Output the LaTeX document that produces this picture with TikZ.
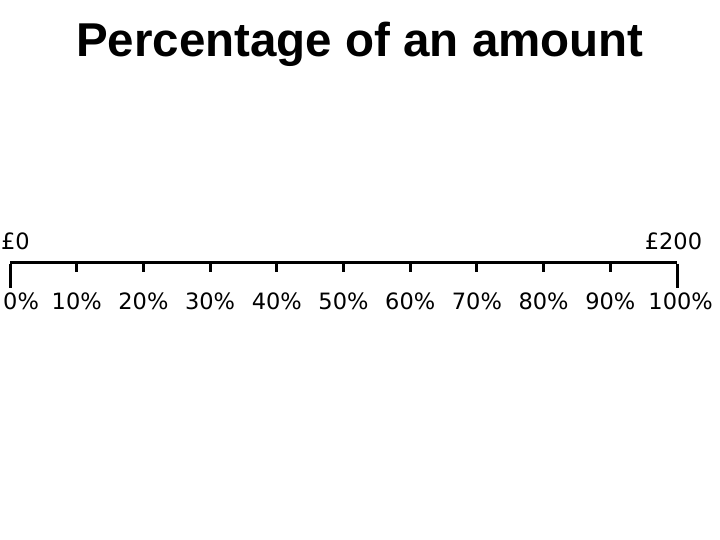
\documentclass[tikz,border=0pt]{standalone}
\usepackage{fontspec}
\setmainfont{DejaVu Sans}
\newfontfamily\titlefont{Liberation Sans}
\usepackage{tikz}
\usetikzlibrary{positioning,calc}

\begin{document}
\begin{tikzpicture}[x=1pt, y=-1pt,
		pct/.style={anchor=base, inner sep=0pt, font=\fontsize{22.5}{26}\selectfont},
		money/.style={anchor=base, inner sep=0pt, font=\fontsize{22.5}{26}\selectfont},
		numline/.style={line width=3pt}]
		\useasboundingbox[fill=white] (0,0) rectangle (720,540);
		% title
		\node[anchor=base, inner sep=0pt, font=\titlefont\bfseries\fontsize{47.5}{54}\selectfont]
			(title) at (360,57) {Percentage of an amount};
		% number line from 0% to 100%
		\coordinate (start) at (10,262);
		\coordinate (end) at (677,262);
		\draw[numline] (start) -- (end);
		% ticks and percentage labels
		\foreach \i in {0,...,10} {
			\coordinate (t\i) at ($(start)!\i/10!(end)$);
		}
		\foreach \i in {1,...,9} {
			\node[pct] (p\i) at ($(t\i)+(0,47.5)$) {\the\numexpr\i*10\relax\%};
			\draw[numline] (t\i) -- ++(0,10);
		}
		\node[pct, anchor=base west] (p0) at ($(t0)+(-7,47.5)$) {0\%};
		\node[pct, anchor=base east] (p10) at ($(t10)+(36,47.5)$) {100\%};
		\draw[numline] ([yshift=-1.5pt]start) -- ++(0,24.5);
		\draw[numline] ([yshift=-1.5pt]end) -- ++(0,24.5);
		% amounts at both ends
		\node[money] (m0) at ($(start)+(5.5,-13)$) {£0};
		\node[money] (m200) at ($(end)+(-3.5,-13)$) {£200};
	\end{tikzpicture}
\end{document}
